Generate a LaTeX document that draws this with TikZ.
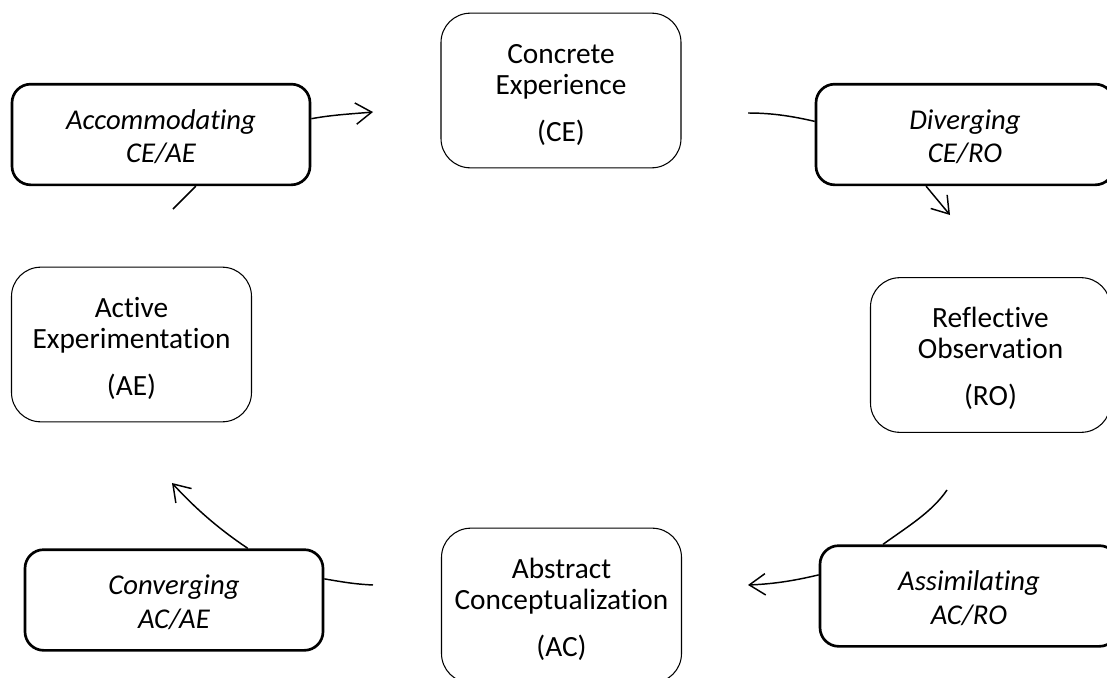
\documentclass[tikz,border=0pt]{standalone}
\usepackage{fontspec}
\setmainfont{Carlito}[Ligatures=CommonOff]
\usetikzlibrary{arrows.meta}
\newcommand{\tophold}[1]{\rule{0pt}{#1}}

\begin{document}
\begin{tikzpicture}[x=0.75pt,y=-0.75pt,
  stage/.style={draw,line width=0.8pt,rounded corners=22pt,minimum width=180pt,
    minimum height=116pt,align=center,font=\fontsize{22}{23.25}\selectfont},
  learnstyle/.style={draw,line width=2pt,rounded corners=14pt,minimum width=223.5pt,
    minimum height=75.5pt,align=center,font=\fontsize{21.5}{25}\selectfont\itshape},
  flow/.style={line width=1.1pt},
  flowtip/.style={-{Straight Barb[length=12pt,width=16pt]}}]
  \useasboundingbox (0,0) rectangle (1107,678);
  \clip (0,0) rectangle (1107,678);

  % the four stages of the cycle
  \node[stage] (ce) at (561,90.5) {\tophold{21pt}Concrete\\Experience\\[12pt](CE)};
  \node[stage] (ro) at (990.5,355) {\tophold{21pt}Reflective\\Observation\\[12pt](RO)};
  \node[stage] (ac) at (561.5,605.5) {\tophold{21pt}Abstract\\Conceptualization\\[12pt](AC)};
  \node[stage] (ae) at (131.5,344.5) {\tophold{21pt}Active\\Experimentation\\[12pt](AE)};

  % learning styles between two stages
  \node[learnstyle] (accom) at (161,134.5) {\tophold{18pt}Accommodating\\CE/AE};
  \node[learnstyle] (diverg) at (965,134.5) {\tophold{18pt}Diverging\\CE/RO};
  \node[learnstyle] (assim) at (969,596) {\tophold{18pt}Assimilating\\AC/RO};
  \node[learnstyle] (converg) at (174,600) {\tophold{18pt}Converging\\AC/AE};

  \coordinate (accS) at (173,209);
  \coordinate (ceW) at (373,112);
  \coordinate (divW) at (748,113);
  \coordinate (roN) at (950,215);
  \coordinate (roS) at (947,490);
  \coordinate (acE) at (748,585);
  \coordinate (acW) at (373,585);
  \coordinate (aeS) at (172,483);

  \draw[flow] (accS) -- (accom.-56);
  \draw[flow,flowtip] (accom.6) .. controls +(22,-4) and +(-22,2) .. (ceW);

  \draw[flow] (divW) .. controls +(25,0) and +(-22,-5) .. (diverg.175);
  \draw[flow,flowtip] (diverg.-127) -- (roN);

  \draw[flow] (roS) .. controls +(-15,22) and +(25,-18) .. (assim.149);
  \draw[flow,flowtip] (assim.172) .. controls +(-25,6) and +(25,-1) .. (acE);

  \draw[flow] (acW) .. controls +(-20,-1) and +(18,3) .. (converg.8);
  \draw[flow,flowtip] (converg.35) .. controls +(-30,-20) and +(22,24) .. (aeS);
\end{tikzpicture}
\end{document}
